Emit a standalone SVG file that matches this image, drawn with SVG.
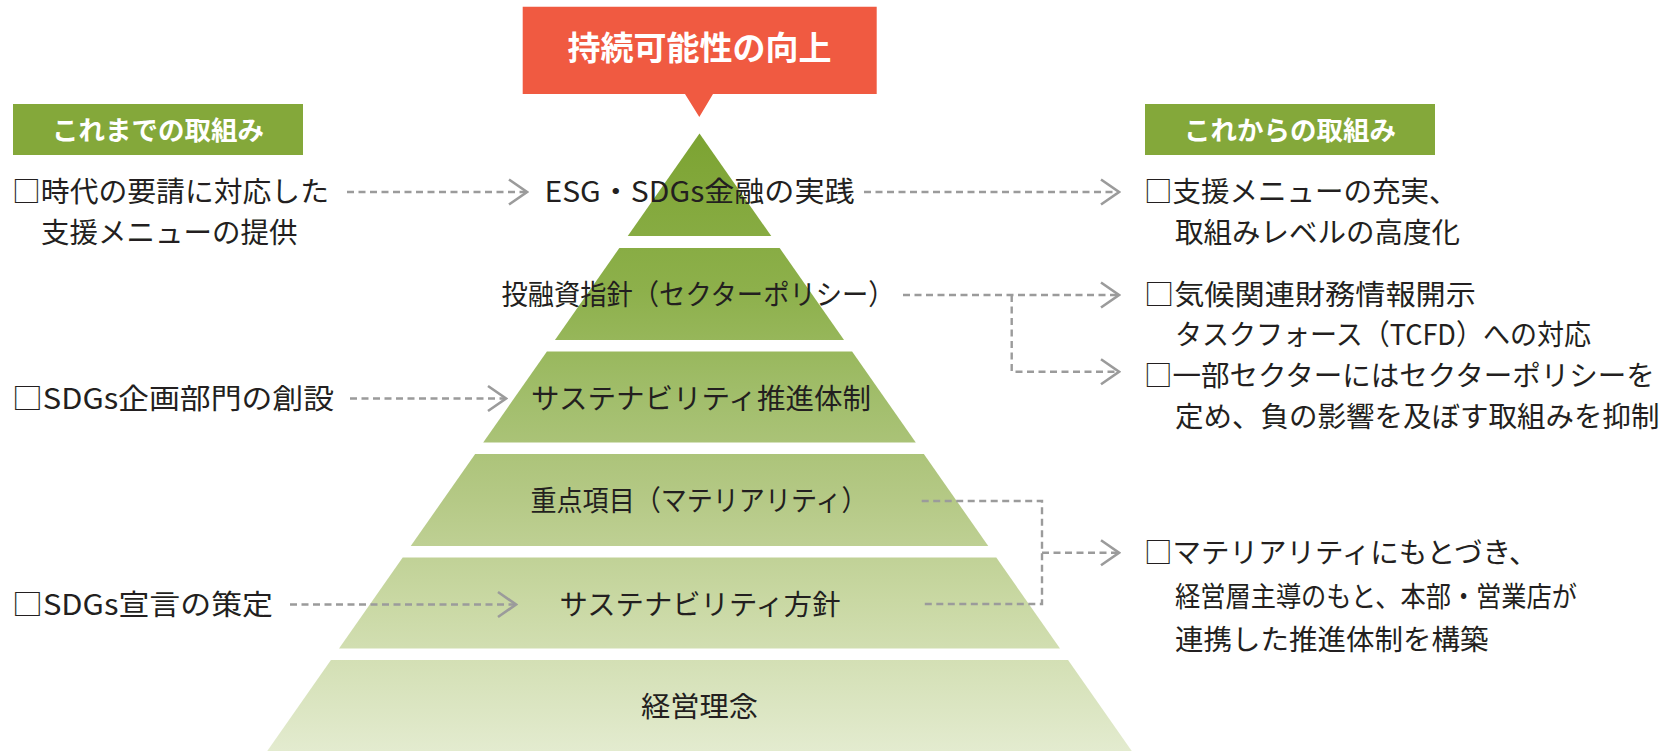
<svg xmlns="http://www.w3.org/2000/svg" width="1662" height="751" viewBox="0 0 1662 751">
<defs>
<linearGradient id="pyr" gradientUnits="userSpaceOnUse" x1="0" y1="133" x2="0" y2="751">
<stop offset="0" stop-color="#7ca332"/>
<stop offset="0.254" stop-color="#8db04b"/>
<stop offset="0.432" stop-color="#a2be6c"/>
<stop offset="0.594" stop-color="#b5c986"/>
<stop offset="0.756" stop-color="#c9d8a3"/>
<stop offset="1" stop-color="#e3ebcf"/>
</linearGradient>
<marker id="chev" markerUnits="userSpaceOnUse" viewBox="0 0 22 30" refX="20" refY="15" markerWidth="22" markerHeight="30" orient="auto">
<path d="M2,2.5 L20,15 L2,27.5" fill="none" stroke="#9b9b9b" stroke-width="2.6" stroke-dasharray="none"/>
</marker>
<style>
.lbl{font-family:"Noto Sans CJK JP","Noto Sans",sans-serif;font-size:28.5px;fill:#231f20}
.ctr{text-anchor:middle}
.head{font-family:"Noto Sans CJK JP","Noto Sans",sans-serif;font-weight:700;fill:#ffffff;text-anchor:middle}
.tier{fill:url(#pyr)}
.tag{fill:#84a83a}
.conn{fill:none;stroke:#9b9b9b;stroke-width:2.4;stroke-dasharray:7 4.5}
</style>
</defs>

<g id="goal">
<path d="M522.7,6.7 H876.7 V94 H713 L699.3,117 L685,94 H522.7 Z" fill="#f05a41"/>
<text class="head" x="699.5" y="60" font-size="33">持続可能性の向上</text>
</g>

<g id="tag-past">
<rect class="tag" x="13" y="104" width="290" height="51"/>
<text class="head" x="158" y="139.5" font-size="26.5">これまでの取組み</text>
</g>
<g id="tag-future">
<rect class="tag" x="1145" y="104" width="290" height="51"/>
<text class="head" x="1290" y="139.5" font-size="26.5">これからの取組み</text>
</g>

<g id="tier1">
<polygon class="tier" points="699.5,133.5 771.25,236 627.75,236"/>
<text class="lbl ctr" x="699.5" y="202" textLength="310" lengthAdjust="spacingAndGlyphs">ESG・SDGs金融の実践</text>
</g>
<g id="tier2">
<polygon class="tier" points="619.35,248 779.65,248 844.05,340 554.95,340"/>
<text class="lbl ctr" x="698" y="305" textLength="393" lengthAdjust="spacingAndGlyphs">投融資指針（セクターポリシー）</text>
</g>
<g id="tier3">
<polygon class="tier" points="546.9,351.5 852.1,351.5 915.8,442.5 483.2,442.5"/>
<text class="lbl ctr" x="701" y="408.5" textLength="340" lengthAdjust="spacingAndGlyphs">サステナビリティ推進体制</text>
</g>
<g id="tier4">
<polygon class="tier" points="475.15,454 923.85,454 988.25,546 410.75,546"/>
<text class="lbl ctr" x="699" y="511" textLength="337" lengthAdjust="spacingAndGlyphs">重点項目（マテリアリティ）</text>
</g>
<g id="tier5">
<polygon class="tier" points="402.7,557.5 996.3,557.5 1060,648.5 339,648.5"/>
<text class="lbl ctr" x="700" y="614.5" textLength="281" lengthAdjust="spacingAndGlyphs">サステナビリティ方針</text>
</g>
<g id="tier6">
<polygon class="tier" points="330.95,660 1068.05,660 1131.75,751 267.25,751"/>
<text class="lbl ctr" x="699.5" y="717" textLength="117" lengthAdjust="spacingAndGlyphs">経営理念</text>
</g>

<g id="past1">
<text class="lbl" x="12" y="202" textLength="317" lengthAdjust="spacingAndGlyphs">□時代の要請に対応した</text>
<text class="lbl" x="41" y="243">支援メニューの提供</text>
</g>
<g id="past2">
<text class="lbl" x="12" y="408.5" textLength="322" lengthAdjust="spacingAndGlyphs">□SDGs企画部門の創設</text>
</g>
<g id="past3">
<text class="lbl" x="12" y="614.5" textLength="261" lengthAdjust="spacingAndGlyphs">□SDGs宣言の策定</text>
</g>

<g id="future1">
<text class="lbl" x="1144" y="202">□支援メニューの充実、</text>
<text class="lbl" x="1175" y="243">取組みレベルの高度化</text>
</g>
<g id="future2">
<text class="lbl" x="1144" y="305" textLength="332" lengthAdjust="spacingAndGlyphs">□気候関連財務情報開示</text>
<text class="lbl" x="1175" y="345" textLength="416" lengthAdjust="spacingAndGlyphs">タスクフォース（TCFD）への対応</text>
</g>
<g id="future3">
<text class="lbl" x="1144" y="386">□一部セクターにはセクターポリシーを</text>
<text class="lbl" x="1175" y="427">定め、負の影響を及ぼす取組みを抑制</text>
</g>
<g id="future4">
<text class="lbl" x="1144" y="563">□マテリアリティにもとづき、</text>
<text class="lbl" x="1175" y="607" textLength="402" lengthAdjust="spacingAndGlyphs">経営層主導のもと、本部・営業店が</text>
<text class="lbl" x="1175" y="650">連携した推進体制を構築</text>
</g>

<g id="connectors">
<path class="conn" d="M347,192 H527" marker-end="url(#chev)"/>
<path class="conn" d="M864,192 H1119" marker-end="url(#chev)"/>
<path class="conn" d="M350,398.5 H506" marker-end="url(#chev)"/>
<path class="conn" d="M290,604.5 H516" marker-end="url(#chev)"/>
<path class="conn" d="M903,295 H1119" marker-end="url(#chev)"/>
<path class="conn" d="M1011.7,295 V371.7 H1119" marker-end="url(#chev)"/>
<path class="conn" d="M921.7,501 H1042 V604 H921.7"/>
<path class="conn" d="M1042,552.7 H1119" marker-end="url(#chev)"/>
</g>
</svg>
